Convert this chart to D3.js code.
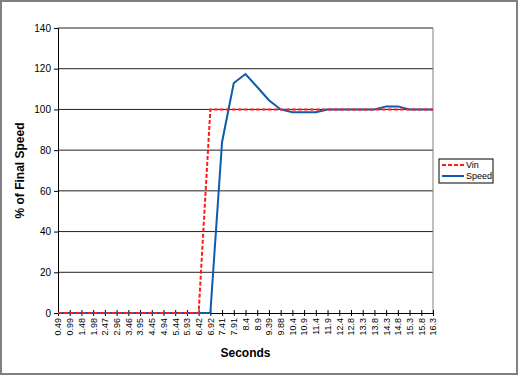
<!DOCTYPE html>
<html>
<head>
<meta charset="utf-8">
<script src="https://cdn.jsdelivr.net/npm/d3@7"></script>
<style>
  body { margin: 0; background: #fff; }
  svg { display: block; font-family: Arial, "Liberation Sans", sans-serif; }
</style>
</head>
<body>
<script>
const width = 518;
const height = 375;

// Data
const seconds = ["0.49","0.99","1.48","1.98","2.47","2.96","3.46","3.95","4.45","4.94",
  "5.44","5.93","6.42","6.92","7.41","7.91","8.4","8.9","9.39","9.88","10.4","10.9",
  "11.4","11.9","12.4","12.8","13.3","13.8","14.3","14.8","15.3","15.8","16.3"];
const vin = [0,0,0,0,0,0,0,0,0,0,0,0,0,100,100,100,100,100,100,100,100,100,
  100,100,100,100,100,100,100,100,100,100,100];
const speed = [0,0,0,0,0,0,0,0,0,0,0,0,0,0,84,113,117.4,111,104.5,100,98.6,98.6,
  98.6,100,100,100,100,100,101.5,101.5,100,100,100];
const yTicks = [0, 20, 40, 60, 80, 100, 120, 140];

const margin = {left: 58, right: 433, top: 28, bottom: 313};

const svg = d3.select("body").append("svg")
  .attr("width", width)
  .attr("height", height);

// outer frame
svg.append("rect")
  .attr("x", 1).attr("y", 1)
  .attr("width", width - 2).attr("height", height - 2)
  .attr("fill", "#fff")
  .attr("stroke", "#808080")
  .attr("stroke-width", 2);

const x = d3.scalePoint().domain(seconds).range([margin.left, margin.right]);
const y = d3.scaleLinear().domain([0, 140]).range([margin.bottom, margin.top]);

// gridlines
svg.append("g")
  .selectAll("line")
  .data(yTicks.filter(d => d > 0))
  .join("line")
  .attr("x1", margin.left).attr("x2", margin.right)
  .attr("y1", d => y(d)).attr("y2", d => y(d))
  .attr("stroke", "#222")
  .attr("stroke-width", 1);

// right border of plot
svg.append("line")
  .attr("x1", margin.right).attr("x2", margin.right)
  .attr("y1", margin.top).attr("y2", margin.bottom)
  .attr("stroke", "#808080");

// y axis
const yAxis = svg.append("g")
  .attr("transform", `translate(${margin.left},0)`)
  .call(d3.axisLeft(y).tickValues(yTicks).tickSize(4).tickPadding(3));
yAxis.select(".domain").attr("stroke", "#000");
yAxis.selectAll(".tick line").attr("stroke", "#000");
yAxis.selectAll("text")
  .attr("font-size", 10)
  .attr("fill", "#000")
  .attr("font-family", "Arial, 'Liberation Sans', sans-serif");

// x axis with cross ticks
const xAxis = svg.append("g")
  .attr("transform", `translate(0,${margin.bottom})`)
  .call(d3.axisBottom(x).tickSizeInner(3).tickSizeOuter(0).tickPadding(4));
xAxis.select(".domain").attr("stroke", "#000");
xAxis.selectAll(".tick line").attr("y1", -3).attr("y2", 3).attr("stroke", "#000");
xAxis.selectAll("text")
  .attr("font-size", 9)
  .attr("fill", "#000")
  .attr("font-family", "Arial, 'Liberation Sans', sans-serif")
  .attr("transform", "rotate(-90)")
  .attr("text-anchor", "end")
  .attr("dy", "0.32em")
  .attr("x", -5)
  .attr("y", 0);

// series
const line = d3.line()
  .x((d, i) => x(seconds[i]))
  .y(d => y(d));

svg.append("path")
  .datum(speed)
  .attr("d", line)
  .attr("fill", "none")
  .attr("stroke", "#0b5cad")
  .attr("stroke-width", 2);

svg.append("path")
  .datum(vin)
  .attr("d", line)
  .attr("fill", "none")
  .attr("stroke", "#ff1a1a")
  .attr("stroke-width", 2)
  .attr("stroke-dasharray", "4,2");

// axis titles
svg.append("text")
  .attr("x", (margin.left + margin.right) / 2)
  .attr("y", 357)
  .attr("text-anchor", "middle")
  .attr("font-size", 12)
  .attr("font-weight", "bold")
  .text("Seconds");

svg.append("text")
  .attr("transform", `translate(24,${(margin.top + margin.bottom) / 2}) rotate(-90)`)
  .attr("text-anchor", "middle")
  .attr("font-size", 12)
  .attr("font-weight", "bold")
  .text("% of Final Speed");

// legend
const legend = svg.append("g").attr("transform", "translate(439,159)");
legend.append("rect")
  .attr("width", 54).attr("height", 24)
  .attr("fill", "#fff")
  .attr("stroke", "#000");
const items = [
  {name: "Vin", color: "#ff1a1a", dash: "4,2"},
  {name: "Speed", color: "#0b5cad", dash: null}
];
items.forEach((d, i) => {
  const yy = 6 + i * 11;
  legend.append("line")
    .attr("x1", 3).attr("x2", 25)
    .attr("y1", yy).attr("y2", yy)
    .attr("stroke", d.color)
    .attr("stroke-width", 2)
    .attr("stroke-dasharray", d.dash);
  legend.append("text")
    .attr("x", 27).attr("y", yy)
    .attr("dy", "0.35em")
    .attr("font-size", 9)
    .text(d.name);
});
</script>
</body>
</html>
